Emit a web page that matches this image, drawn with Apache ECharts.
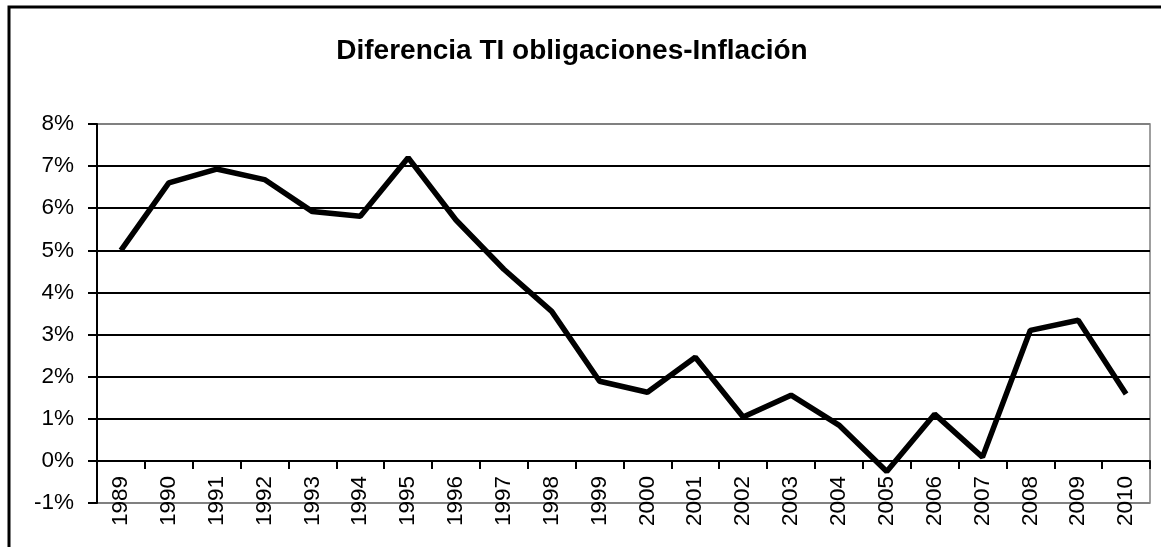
<!DOCTYPE html>
<html>
<head>
<meta charset="utf-8">
<script src="https://cdn.jsdelivr.net/npm/echarts@6/dist/echarts.min.js"></script>
<style>
  html, body { margin: 0; padding: 0; background: #fff; }
  #chart { width: 1161px; height: 547px; }
</style>
</head>
<body>
<div id="chart"></div>
<script>
var years = ['1989', '1990', '1991', '1992', '1993', '1994', '1995', '1996', '1997', '1998', '1999',
  '2000', '2001', '2002', '2003', '2004', '2005', '2006', '2007', '2008', '2009', '2010'];
// diferencia en puntos porcentuales
var diferencia = [5.0, 6.6, 6.93, 6.68, 5.92, 5.81, 7.2, 5.72, 4.55, 3.55, 1.89,
  1.63, 2.46, 1.04, 1.56, 0.85, -0.25, 1.11, 0.09, 3.1, 3.34, 1.59];
var yMin = -1, yMax = 8, yStep = 1;

var font = 'Liberation Sans, Arial, sans-serif';

// lineas de rejilla: extremos en gris (borde del area), el resto negro
var gridColors = [];
for (var v = yMin; v <= yMax; v += yStep) {
  gridColors.push(v === yMin || v === yMax ? '#808080' : '#000');
}

var myChart = echarts.init(document.getElementById('chart'));
myChart.setOption({
  animation: false,
  backgroundColor: '#fff',
  title: {
    text: 'Diferencia TI obligaciones-Inflación',
    left: 567,
    top: 32,
    textAlign: 'center',
    textStyle: { fontFamily: font, fontSize: 28, fontWeight: 'bold', color: '#000' }
  },
  graphic: [{
    type: 'rect',
    shape: { x: 9, y: 7, width: 1300, height: 700 },
    style: { fill: 'none', stroke: '#000', lineWidth: 3 },
    silent: true
  }],
  grid: {
    left: 97,
    right: 11,
    top: 124,
    bottom: 44,
    outerBoundsMode: 'none',
    containLabel: false,
    show: true,
    borderColor: '#808080',
    borderWidth: 1.5
  },
  xAxis: {
    type: 'category',
    data: years,
    boundaryGap: true,
    axisLine: { onZero: true, lineStyle: { color: '#000', width: 2 } },
    axisTick: { show: true, length: 8, lineStyle: { color: '#000', width: 2 } },
    axisLabel: {
      rotate: 90,
      margin: -27,
      interval: 0,
      fontFamily: font,
      fontSize: 22.5,
      color: '#000'
    },
    splitLine: { show: false }
  },
  yAxis: {
    type: 'value',
    min: yMin,
    max: yMax,
    interval: yStep,
    axisLine: { show: true, lineStyle: { color: '#000', width: 2 } },
    axisTick: { show: true, length: 9, lineStyle: { color: '#000', width: 2 } },
    axisLabel: {
      margin: 23,
      formatter: '{value}%',
      fontFamily: font,
      fontSize: 22.5,
      color: '#000'
    },
    splitLine: { show: true, lineStyle: { color: gridColors, width: 1.8 } }
  },
  series: [{
    type: 'line',
    data: diferencia,
    symbol: 'none',
    lineStyle: { color: '#000', width: 5.5 }
  }]
});
</script>
</body>
</html>
